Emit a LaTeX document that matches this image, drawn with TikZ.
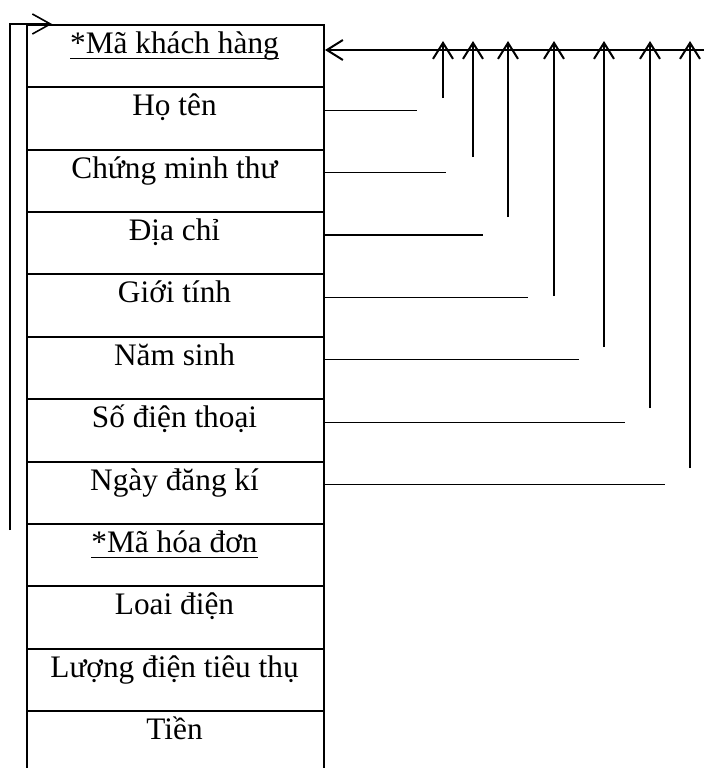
\documentclass[tikz,border=0pt]{standalone}
\usepackage{fontspec}
\setmainfont{Liberation Serif}
\usetikzlibrary{arrows.meta}
\begin{document}
\begin{tikzpicture}[x=1pt,y=-1pt,
  cellbox/.style={draw, line width=2pt, minimum width=297pt, minimum height=62.36pt, inner sep=0pt, anchor=north west},
  celltext/.style={anchor=base, inner sep=0pt, font=\fontsize{31.3}{34}\selectfont},
  stub/.style={line width=1.3pt},
  ref/.style={line width=2pt, -{Straight Barb[length=16pt,width=20pt,line width=2pt]}},
  back/.style={line width=1.3pt, -{Straight Barb[length=18pt,width=20pt,line width=1.6pt]}},
  uline/.style={line width=1.5pt}
]
\useasboundingbox (0,0) rectangle (704,768);
% table rows
\foreach \i/\t in {0/{*Mã khách hàng},1/{Họ tên},2/{Chứng minh thư},3/{Địa chỉ},4/{Giới tính},5/{Năm sinh},6/{Số điện thoại},7/{Ngày đăng kí},8/{*Mã hóa đơn},9/{Loai điện},10/{Lượng điện tiêu thụ},11/{Tiền}}{
  \node[cellbox] (c\i) at (26,{24+62.36*\i}) {};
  \node[celltext] (r\i) at (174.5,{24+62.36*\i+29.5}) {\t};
}
% underlines of keys
\draw[uline] ([yshift=-5pt]r0.base west) -- ([yshift=-5pt]r0.base east);
\draw[uline] ([yshift=-5pt]r8.base west) -- ([yshift=-5pt]r8.base east);
% stubs and reference arrows
\coordinate (hr) at (704,50);
\draw[ref] (hr) -- (c0.east |- hr);
\foreach \k/\ex/\vx/\vb in {1/417/443/98, 2/446/473/157, 3/483/508/217, 4/528/554/296, 5/579/604/347, 6/625/650/408, 7/665/690/468}{
  \coordinate (se\k) at (\ex,{24+62.36*\k+24});
  \draw[stub] (c\k.east |- se\k) -- (se\k);
  \coordinate (vb\k) at (\vx,\vb);
  \coordinate (vt\k) at (\vx,41);
  \draw[ref] (vb\k) -- (vt\k);
}
% left back arrow
\coordinate (lb) at (10,530);
\coordinate (lt) at (10,24);
\coordinate (la) at (52,24);
\draw[back] (lb) -- (lt) -- (la);
\end{tikzpicture}
\end{document}
